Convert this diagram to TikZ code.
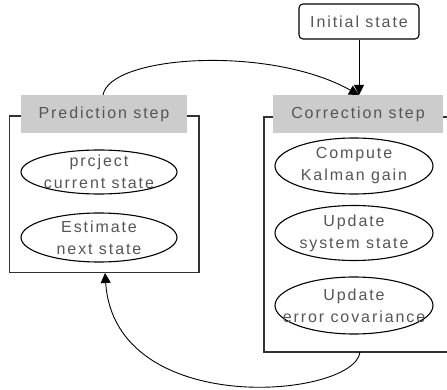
\documentclass[tikz,border=0pt]{standalone}
\usepackage{fontspec}
\newfontfamily\lblfont[LetterSpace=12]{Liberation Sans}
\usetikzlibrary{shapes.geometric,arrows.meta}
\definecolor{labelgray}{HTML}{CCCCCC}
\definecolor{inkgray}{HTML}{555555}
\definecolor{framegray}{HTML}{333333}
\begin{document}
\begin{tikzpicture}[x=1pt,y=-1pt,
  txt/.style={font=\lblfont\fontsize{16}{22}\selectfont, text=inkgray, align=center, inner sep=0pt},
  steplabel/.style={txt, fill=labelgray, minimum height=38pt},
  stage/.style={txt, draw=black, line width=1.1pt, ellipse, inner sep=-30pt},
  frame/.style={draw=framegray, line width=1.4pt},
  flow/.style={draw=black, line width=0.9pt, -{Triangle[length=10pt,width=10pt]}}]
\useasboundingbox (0,0) rectangle (447,390);
\clip (0,0) rectangle (447,390);

% prediction group
\draw[frame] (9.5,116) rectangle (199,272.5);
\node[steplabel, minimum width=166pt] (pred) at (104,114) {Prediction step};
\node[stage, minimum width=156pt, minimum height=44pt] (proj) at (99,172) {prcject\\current state};
\node[stage, minimum width=156pt, minimum height=49pt] (est) at (99,237.5) {Estimate\\next state};
\coordinate (predbot) at (105,273);

% correction group
\draw[frame] (264,117) rectangle (455,352);
\node[steplabel, minimum width=170pt] (corr) at (358,114) {Correction step};
\node[stage, minimum width=158pt, minimum height=56pt] (gain) at (354,166) {Compute\\Kalman gain};
\node[stage, minimum width=158pt, minimum height=55pt] (upd) at (354,233) {Update\\system state};
\node[stage, minimum width=158pt, minimum height=57pt] (cov) at (354,305.5) {Update\\error covariance};
\coordinate (corrbot) at (360,352);

% start node
\node[txt, draw=black, line width=1.1pt, rounded corners=4pt, minimum width=120pt, minimum height=35pt] (init) at (359,21.5) {Initial state};

% connectors
\coordinate (corrtop) at (359,95);
\coordinate (predtop) at (103,95);
\draw[flow] (init.south) -- (corrtop);
\draw[flow] (predtop) .. controls (110,55) and (270,45) .. (corrtop);
\draw[flow] (corrbot) .. controls (355,398) and (115,420) .. (predbot);
\end{tikzpicture}
\end{document}
